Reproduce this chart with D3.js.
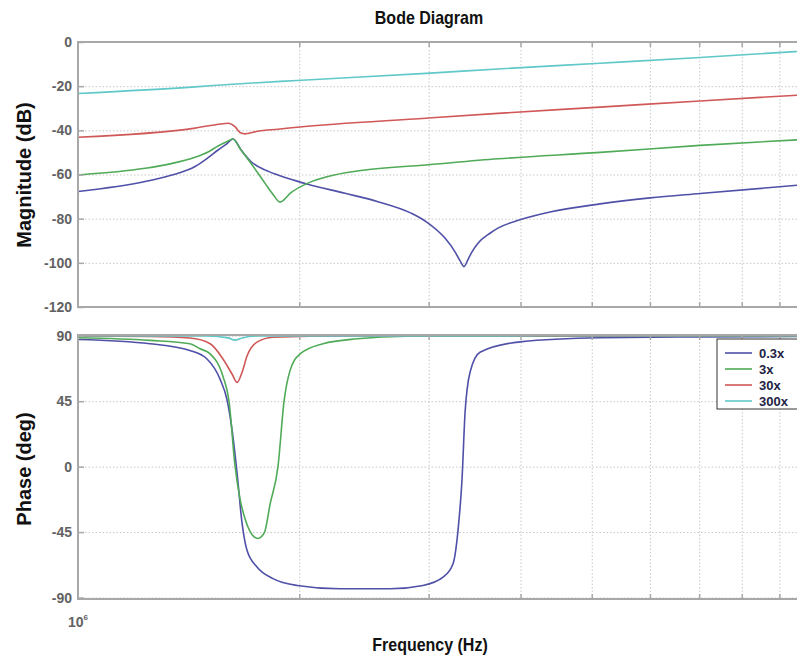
<!DOCTYPE html>
<html>
<head>
<meta charset="utf-8">
<script src="https://cdn.jsdelivr.net/npm/d3@7"></script>
<style>
body{margin:0;background:#fff;}
text{font-family:"Liberation Sans",Arial,sans-serif;font-weight:bold;}
</style>
</head>
<body>
<script>
// [frequency in MHz, value]
var magBlue = [[1.000,-67.7],[1.234,-63.2],[1.334,-60.5],[1.443,-56.4],[1.503,-52.4],[1.551,-48.9],[1.590,-46.4],[1.625,-43.9],
  [1.672,-49.5],[1.719,-54.1],[1.796,-57.9],[1.871,-60.2],[1.986,-63.0],[2.055,-64.4],[2.308,-68.5],[2.559,-72.3],
  [2.839,-77.5],[2.975,-81.3],[3.157,-88.8],[3.258,-95.0],[3.309,-99.0],[3.351,-101.7],[3.393,-98.5],
  [3.436,-95.0],[3.501,-91.1],[3.635,-86.6],[3.727,-84.3],[3.994,-80.5],[4.387,-77.0],[5.132,-73.3],
  [6.001,-70.6],[7.019,-68.6],[9.511,-64.9]]
var magGreen = [[1.000,-60.2],[1.234,-57.2],[1.334,-55.2],[1.443,-52.2],[1.503,-49.8],[1.551,-47.1],[1.590,-45.3],[1.625,-43.9],
  [1.661,-48.2],[1.719,-54.9],[1.796,-63.9],[1.842,-69.0],[1.883,-72.5],[1.949,-68.2],[2.055,-63.9],
  [2.188,-60.9],[2.427,-58.2],[2.975,-55.7],[3.727,-52.9],[5.132,-50.0],[7.019,-46.8],[9.511,-44.3]]
var magRed = [[1.000,-43.1],[1.443,-39.0],[1.565,-37.1],[1.600,-36.8],[1.635,-38.3],[1.661,-41.0],
  [1.688,-41.6],[1.703,-41.4],[1.757,-40.4],[1.871,-39.5],[1.986,-38.6],[2.975,-34.5],[3.727,-32.3],
  [5.132,-29.5],[7.019,-26.7],[9.511,-24.1]]
var magCyan = [[1.000,-23.3],[1.443,-20.3],[1.625,-19.1],[1.986,-17.4],[2.975,-14.2],[3.727,-12.2],
  [5.132,-9.6],[7.019,-7.0],[9.511,-4.3]]

var phBlue = [[1.000,87.4],[1.253,84.5],[1.420,79.8],[1.498,74.0],[1.561,60.0],[1.595,46.0],[1.620,25.6],
  [1.646,-4.4],[1.672,-39.0],[1.698,-57.5],[1.752,-69.0],[1.842,-77.0],[1.986,-81.7],[2.272,-84.0],
  [2.658,-84.0],[2.947,-81.7],[3.138,-76.0],[3.238,-66.7],[3.289,-43.6],[3.330,-9.0],[3.362,37.0],
  [3.415,64.9],[3.523,78.7],[3.994,85.8],[5.132,88.6],[7.019,89.2],[9.511,89.5]]
var phGreen = [[1.000,88.6],[1.253,86.8],[1.420,84.5],[1.466,81.0],[1.513,77.5],[1.575,62.0],[1.605,45.0],
  [1.635,1.0],[1.661,-22.0],[1.688,-36.0],[1.714,-44.5],[1.736,-48.3],[1.757,-49.4],[1.777,-48.0],
  [1.796,-44.5],[1.825,-26.0],[1.871,0.0],[1.907,45.0],[1.943,66.0],[2.005,77.5],[2.154,84.5],
  [2.397,87.9],[2.803,89.6],[9.511,89.9]]
var phRed = [[1.000,89.9],[1.253,89.5],[1.420,88.4],[1.513,84.5],[1.575,74.0],[1.620,63.7],[1.646,57.9],
  [1.672,64.9],[1.698,76.0],[1.752,85.6],[1.842,89.0],[2.345,89.8],[9.511,90.0]]
var phCyan = [[1.000,90.0],[1.500,89.8],[1.600,88.5],[1.635,87.0],[1.672,88.5],[1.760,89.8],[9.511,90.0]]

var seriesNames = ["0.3x","3x","30x","300x"]
var seriesColors = ["#5050a8","#50ab58","#d05858","#60c8c8"]
var magTicks = [0,-20,-40,-60,-80,-100,-120]
var phaseTicks = [90,45,0,-45,-90]
var gridFreqs = [2,3,4,5,6,7,8,9]

var width = 797, height = 658
var left = 78, right = 813
var svg = d3.select("body").append("svg").attr("width",width).attr("height",height)

var x = d3.scaleLog().domain([1,10]).range([left,right])
var yMag = d3.scaleLinear().domain([-120,0]).range([307,42])
var yPh = d3.scaleLinear().domain([-91,90.5]).range([599,335])

var drawPanel = function(y, ticks, name, curves)
{
  var top = y.range()[1], bottom = y.range()[0]
  var g = svg.append("g")

  // grid
  g.append("g")
    .attr("transform","translate(" + left + ",0)")
    .call(d3.axisLeft(y).tickValues(ticks).tickSize(-(right-left)).tickFormat(""))
    .call(function(s){
      s.select(".domain").remove()
      s.selectAll("line").attr("stroke","#c8c8c8").attr("stroke-dasharray","1.5,2")
    })
  g.append("g")
    .attr("transform","translate(0," + bottom + ")")
    .call(d3.axisBottom(x).tickValues(gridFreqs).tickSize(-(bottom-top)).tickFormat(""))
    .call(function(s){
      s.select(".domain").remove()
      s.selectAll("line").attr("stroke","#c8c8c8").attr("stroke-dasharray","1.5,2")
    })

  // curves
  var clip = "clip-" + name
  svg.append("clipPath").attr("id",clip).append("rect")
    .attr("x",left).attr("y",top).attr("width",right-left).attr("height",bottom-top)
  var line = d3.line()
    .x(function(d){return x(d[0]);})
    .y(function(d){return y(d[1]);})
    .curve(d3.curveMonotoneX)
  curves.forEach(function(c,i)
  {
    g.append("path")
      .attr("d",line(c))
      .attr("fill","none")
      .attr("stroke",seriesColors[i])
      .attr("stroke-width",1.6)
      .attr("clip-path","url(#" + clip + ")")
  })

  // box and ticks
  g.append("rect")
    .attr("x",left).attr("y",top).attr("width",right-left).attr("height",bottom-top)
    .attr("fill","none").attr("stroke","#a8a8a8").attr("stroke-width",2)
  var ya = g.append("g")
    .attr("transform","translate(" + left + ",0)")
    .call(d3.axisLeft(y).tickValues(ticks).tickSize(-6).tickPadding(6).tickFormat(function(d){return String(d);}))
  ya.select(".domain").remove()
  ya.selectAll("line").attr("stroke","#a8a8a8").attr("stroke-width",1.5)
  ya.selectAll("text")
    .attr("fill","#626262")
    .style("font-size","14px")
    .style("font-family","'Liberation Sans',Arial,sans-serif")
    .style("font-weight","bold")
  ;[bottom, top].forEach(function(p,k)
  {
    var xa = g.append("g")
      .attr("transform","translate(0," + p + ")")
      .call((k==0 ? d3.axisBottom(x).tickSize(-5) : d3.axisTop(x).tickSize(-5)).tickValues(gridFreqs).tickFormat(""))
    xa.select(".domain").remove()
    xa.selectAll("line").attr("stroke","#a8a8a8").attr("stroke-width",1.5)
  })
}

drawPanel(yMag, magTicks, "mag", [magBlue,magGreen,magRed,magCyan])
drawPanel(yPh, phaseTicks, "ph", [phBlue,phGreen,phRed,phCyan])

// 10^6 label
var lab = svg.append("text")
  .attr("x",x(1)).attr("y",627)
  .attr("text-anchor","middle")
  .attr("fill","#626262")
  .style("font-size","14px")
lab.append("tspan").text("10")
lab.append("tspan").text("6").attr("dy",-7).style("font-size","8px")

// legend
var leg = svg.append("g").attr("transform","translate(717,339)")
leg.append("rect").attr("width",110).attr("height",70)
  .attr("fill","#fff").attr("stroke","#333").attr("stroke-width",1)
seriesNames.forEach(function(n,i)
{
  var yy = 14 + i*16
  leg.append("line").attr("x1",8).attr("x2",35).attr("y1",yy).attr("y2",yy)
    .attr("stroke",seriesColors[i]).attr("stroke-width",1.6)
  leg.append("text").attr("x",42).attr("y",yy).attr("dy","0.35em")
    .attr("fill","#222244").style("font-size","13px").text(n)
})

// titles
svg.append("text")
  .attr("transform","translate(429,24) scale(1,1.2)")
  .attr("text-anchor","middle").attr("fill","#111")
  .style("font-size","16px").text("Bode Diagram")
svg.append("text")
  .attr("transform","translate(430,651) scale(1,1.2)")
  .attr("text-anchor","middle").attr("fill","#111")
  .style("font-size","16px").text("Frequency (Hz)")
svg.append("text")
  .attr("transform","translate(31,175) rotate(-90)")
  .attr("text-anchor","middle").attr("fill","#111")
  .style("font-size","20px").text("Magnitude (dB)")
svg.append("text")
  .attr("transform","translate(31,469) rotate(-90)")
  .attr("text-anchor","middle").attr("fill","#111")
  .style("font-size","20px").text("Phase (deg)")
</script>
</body>
</html>
